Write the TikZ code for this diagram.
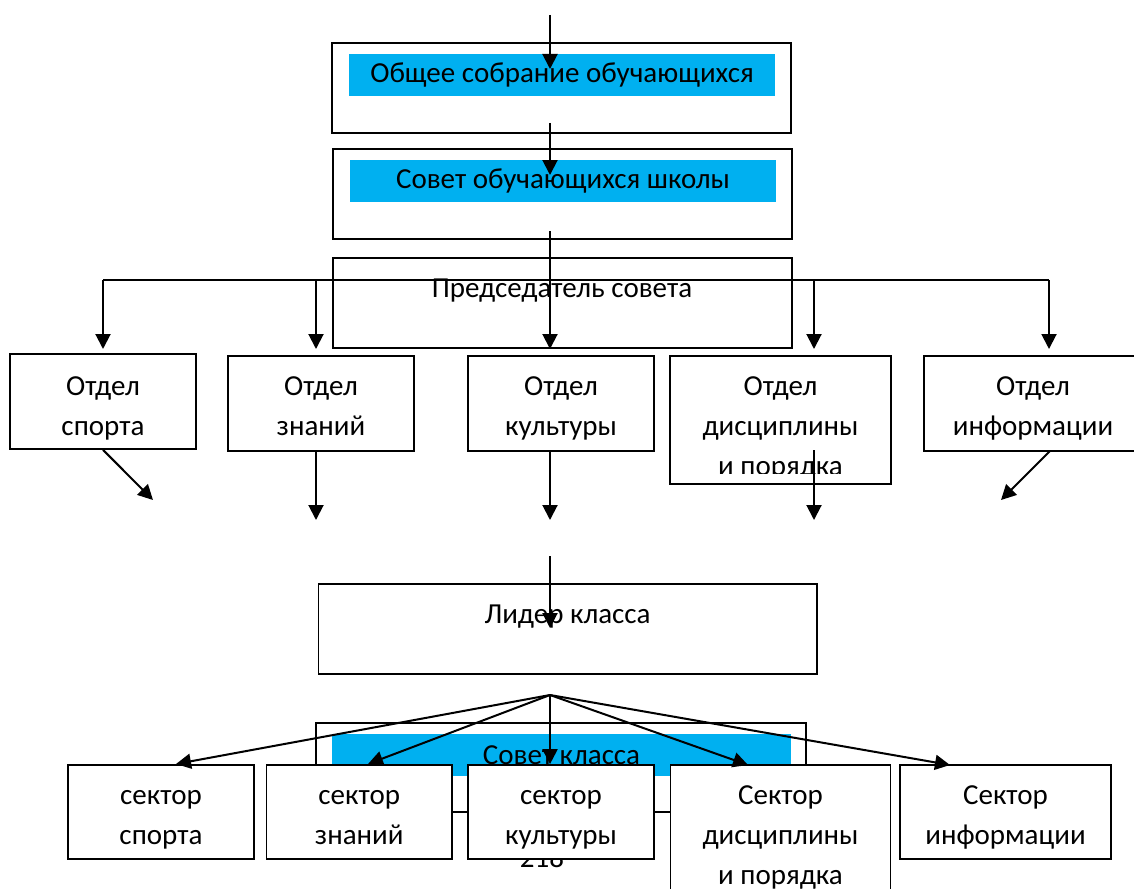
\documentclass[tikz,border=0pt]{standalone}
\usepackage{fontspec}
\setmainfont{Carlito}
\usetikzlibrary{arrows.meta}
\definecolor{barblue}{RGB}{0,176,240}
\newcommand{\boxfont}{\fontsize{29}{40}\selectfont}
\tikzset{
every picture/.style={
line width=1.7pt
}}

\begin{document}
\begin{tikzpicture}[x=1pt, y=-1pt,
block/.style = {rectangle, draw=black, fill=white, inner sep=0pt},
bar/.style = {rectangle, fill=barblue, inner sep=0pt, font=\boxfont},
txt/.style = {align=center, inner sep=0pt, font=\boxfont},
arr/.style = {line width=2pt, -{Triangle[length=15pt, width=15pt]}}]
\clip (0,0) rectangle (1134,888);

% school level
\node [block, minimum width=459, minimum height=90] at (561.5,88) (obs) {};
\node [bar, minimum width=426, minimum height=42] at (562,75) (obsbar) {Общее собрание обучающихся};
\node [block, minimum width=459, minimum height=90] at (562.5,194) (sob) {};
\node [bar, minimum width=426, minimum height=42] at (563,181) (sobbar) {Совет обучающихся школы};
\node [block, minimum width=459, minimum height=90] at (562.5,303) (pred) {};
\node [txt, anchor=north] at (562,269) (predtxt) {\strut Председатель совета};

% departments
\node [block, minimum width=186, minimum height=95] at (103,401.5) (dsport) {};
\node [block, minimum width=186, minimum height=95] at (321,403.5) (dznan) {};
\node [block, minimum width=186, minimum height=95] at (561,403.5) (dkult) {};
\node [block, minimum width=221, minimum height=128] at (780.5,420) (ddisc) {};
\node [block, minimum width=218, minimum height=95] at (1033,403.5) (dinfo) {};
\node [txt, anchor=north] at (103,367) (tsport) {\strut Отдел\\спорта};
\node [txt, anchor=north] at (321,367) (tznan) {\strut Отдел\\знаний};
\node [txt, anchor=north] at (561,367) (tkult) {\strut Отдел\\культуры};
\begin{scope}
\clip (670,356) rectangle (891,473);
\node [txt, anchor=north] at (780.5,367) (tdisc) {\strut Отдел\\дисциплины\\и порядка};
\end{scope}
\node [txt, anchor=north] at (1033,367) (tinfo) {\strut Отдел\\информации};

% class level
\node [block, minimum width=498.5, minimum height=90] at (567.75,629) (lid) {};
\node [txt, anchor=north] at (567.5,595) (lidtxt) {\strut Лидер класса};
\node [block, minimum width=490, minimum height=89] at (561,767.5) (skl) {};
\node [bar, minimum width=459, minimum height=42] at (561.5,755) (sklbar) {Совет класса};
\node [txt, anchor=north] at (542,839) (page) {\strut 218};

% sectors
\node [block, minimum width=186, minimum height=94] at (161,812) (ssport) {};
\node [block, minimum width=185.5, minimum height=94] at (359.25,812) (sznan) {};
\node [block, minimum width=186, minimum height=94] at (561,812) (skult) {};
\node [block, minimum width=220, minimum height=128] at (780.5,829) (sdisc) {};
\node [block, minimum width=211, minimum height=94] at (1005.5,812) (sinfo) {};
\node [txt, anchor=north] at (161,776) (tssport) {\strut сектор\\спорта};
\node [txt, anchor=north] at (359.25,776) (tsznan) {\strut сектор\\знаний};
\node [txt, anchor=north] at (561,776) (tskult) {\strut сектор\\культуры};
\node [txt, anchor=north] at (780.5,776) (tsdisc) {\strut Сектор\\дисциплины\\и порядка};
\node [txt, anchor=north] at (1005.5,776) (tsinfo) {\strut Сектор\\информации};

% connectors
\coordinate (in) at (550,15);
\coordinate (a1) at (550,69);
\coordinate (a2s) at (550,123);
\coordinate (a2) at (550,175);
\coordinate (a3s) at (550,231);
\coordinate (a3) at (550,349);
\coordinate (hl) at (103,280);
\coordinate (h2) at (316,280);
\coordinate (h4) at (814,280);
\coordinate (hr) at (1049,280);
\draw [arr] (in) -- (a1);
\draw [arr] (a2s) -- (a2);
\draw [arr] (a3s) -- (a3);
\draw (hl) -- (hr);
\draw [arr] (hl) -- (hl |- a3);
\draw [arr] (h2) -- (h2 |- a3);
\draw [arr] (h4) -- (h4 |- a3);
\draw [arr] (hr) -- (hr |- a3);

\coordinate (e1) at (153,500);
\coordinate (e2) at (316,520);
\coordinate (e3) at (550,520);
\coordinate (e4s) at (814,450);
\coordinate (e4) at (814,520);
\coordinate (e5s) at (1050,451);
\coordinate (e5) at (1001,500);
\draw [arr] (dsport.south) -- (e1);
\draw [arr] (dznan.south -| e2) -- (e2);
\draw [arr] (dkult.south -| e3) -- (e3);
\draw [arr] (e4s) -- (e4);
\draw [arr] (e5s) -- (e5);

\coordinate (b0) at (550,556);
\coordinate (b1) at (550,628);
\coordinate (fan) at (550,695);
\draw [arr] (b0) -- (b1);
\draw [arr] (fan) -- (176,764);
\draw [arr] (fan) -- (368,764);
\draw [arr] (fan) -- (fan |- skult.north);
\draw [arr] (fan) -- (748,765);
\draw [arr] (fan) -- (950,765);

\end{tikzpicture}
\end{document}
